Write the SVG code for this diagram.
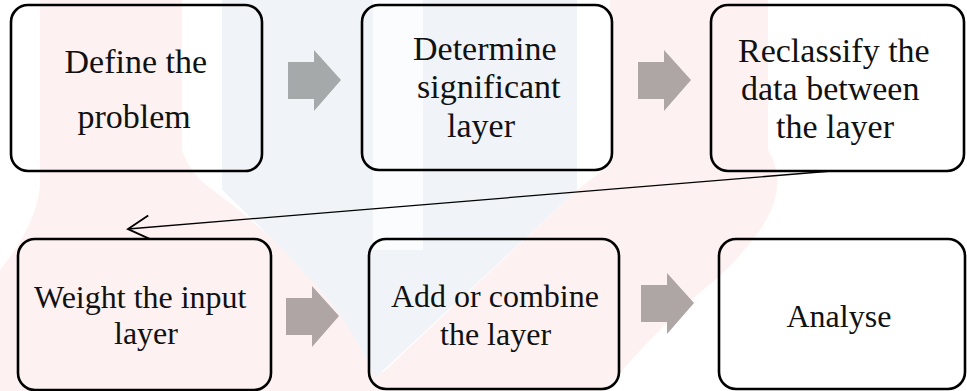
<svg xmlns="http://www.w3.org/2000/svg" width="967" height="391" viewBox="0 0 967 391">
  <defs>
    <style>
      .box { fill: none; stroke: #000; stroke-width: 2.6; }
      .top-text { font-family: 'Liberation Serif', serif; font-size: 34px; fill: #111; }
      .low-text { font-family: 'Liberation Serif', serif; font-size: 32px; fill: #111; }
      .link { fill: none; stroke: #000; stroke-width: 1.3; }
    </style>
    <marker id="openHead" markerUnits="userSpaceOnUse" markerWidth="30" markerHeight="30" viewBox="-20 -12 22 24" refX="0" refY="0" orient="auto">
      <path d="M-17,-9.5 L0,0 L-17,9.5" fill="none" stroke="#000" stroke-width="1.5"/>
    </marker>
    <!-- shared block arrow shape, drawn pointing right from its own origin -->
    <polygon id="blockArrow" points="0,0 26,0 26,-12 53,18 26,49 26,37 0,37"/>
  </defs>

  <rect width="967" height="391" fill="#FFFFFF"/>

  <!-- faint background emblem -->
  <g id="emblem" stroke="none">
    <!-- left pink bar sweeping down-right -->
    <path fill="#FEF1F1" d="M40,0 L182,0 L182,150 Q190,175 213,190 Q280,240 320,290 Q360,335 395,391 L0,391 L0,270 Q40,220 40,180 Z"/>
    <!-- blue bars -->
    <path fill="#F0F4F8" d="M222,0 L577,0 L577,190 L375,378 Q355,330 320,290 Q270,235 222,190 Z"/>
    <rect fill="#FFFFFF" opacity="0.75" x="373" y="0" width="50" height="250"/>
    <!-- right pink bar sweeping down-left -->
    <path fill="#FEF1F1" d="M610,0 L768,0 L768,150 Q790,185 760,230 Q735,265 703,290 Q650,335 605,391 L363,391 L577,190 L610,165 Z"/>
  </g>

  <!-- connectors -->
  <g id="connectors" stroke="none">
    <use href="#blockArrow" x="288" y="62" fill="#A5A9AA"/>
    <use href="#blockArrow" x="638" y="62" fill="#AEA5A5"/>
    <use href="#blockArrow" x="286" y="298" fill="#AFA5A5"/>
    <use href="#blockArrow" x="641" y="285" fill="#AEA5A5"/>
    <line class="link" x1="832" y1="171" x2="128" y2="229" marker-end="url(#openHead)"/>
  </g>

  <!-- step nodes: upper row set at 34px, lower row at 32px -->
  <g id="nodes">
    <g id="define-problem">
      <rect class="box" x="11" y="5" width="251" height="166" rx="17"/>
      <text class="top-text" font-family="Liberation Serif, serif" x="64.5" y="73">Define the</text>
      <text class="top-text" font-family="Liberation Serif, serif" x="77.5" y="128">problem</text>
    </g>

    <g id="determine-layer">
      <rect class="box" x="362" y="5" width="250" height="165" rx="17"/>
      <text class="top-text" font-family="Liberation Serif, serif" x="413" y="60">Determine</text>
      <text class="top-text" font-family="Liberation Serif, serif" x="417" y="98">significant</text>
      <text class="top-text" font-family="Liberation Serif, serif" x="447" y="137">layer</text>
    </g>

    <g id="reclassify-data">
      <rect class="box" x="711" y="5" width="253" height="166" rx="17"/>
      <text class="top-text" font-family="Liberation Serif, serif" x="738" y="62">Reclassify the</text>
      <text class="top-text" font-family="Liberation Serif, serif" x="741" y="100">data between</text>
      <text class="top-text" font-family="Liberation Serif, serif" x="776" y="138">the layer</text>
    </g>

    <g id="weight-input">
      <rect class="box" x="18" y="239" width="253" height="151" rx="17"/>
      <text class="low-text" font-family="Liberation Serif, serif" x="34" y="308">Weight the input</text>
      <text class="low-text" font-family="Liberation Serif, serif" x="114" y="344">layer</text>
    </g>

    <g id="combine-layer">
      <rect class="box" x="369" y="239" width="250" height="150" rx="17"/>
      <text class="low-text" font-family="Liberation Serif, serif" x="391" y="307">Add or combine</text>
      <text class="low-text" font-family="Liberation Serif, serif" x="440" y="345">the layer</text>
    </g>

    <g id="analyse">
      <rect class="box" x="719" y="239" width="246" height="150" rx="17"/>
      <text class="low-text" font-family="Liberation Serif, serif" x="786.5" y="327">Analyse</text>
    </g>
  </g>
</svg>
